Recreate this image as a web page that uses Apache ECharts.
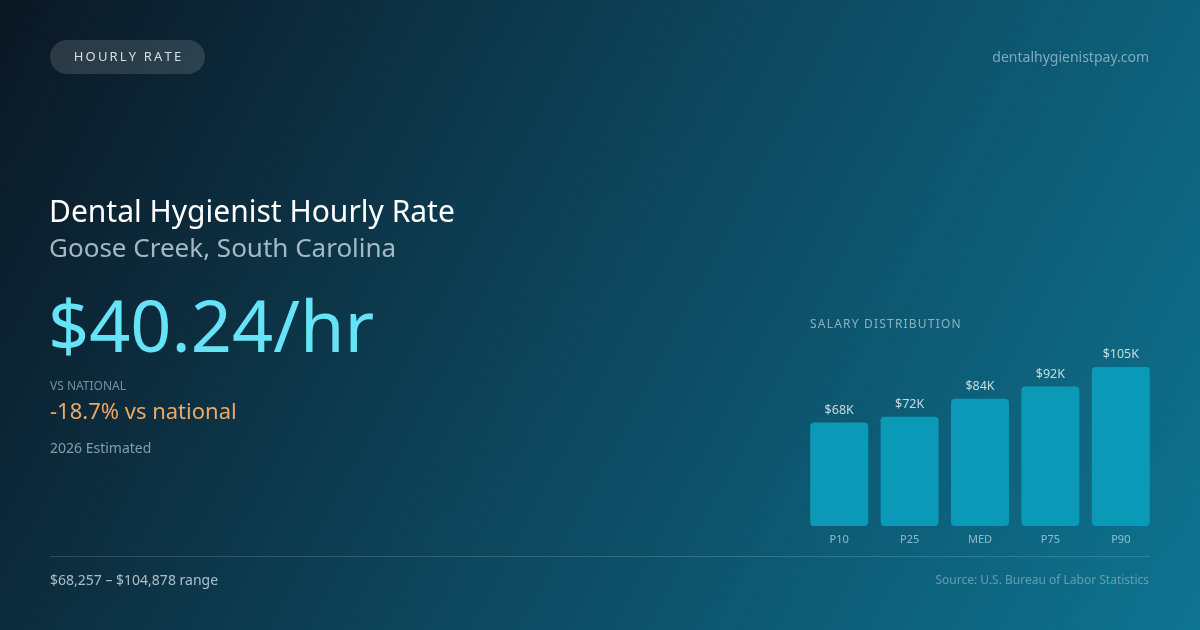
<!DOCTYPE html>
<html>
<head>
<meta charset="utf-8">
<title>Dental Hygienist Hourly Rate - Goose Creek</title>
<script src="https://cdn.jsdelivr.net/npm/echarts@6/dist/echarts.min.js"></script>
<style>
  html, body { margin: 0; padding: 0; background: #0c1a28; }
  #main { width: 1200px; height: 630px; }
</style>
</head>
<body>
<div id="main"></div>
<script>
// salary distribution (annual, USD)
var categories = ['P10', 'P25', 'MED', 'P75', 'P90'];
var salaries = [68257, 72000, 84000, 92000, 104878];
var valueLabels = ['$68K', '$72K', '$84K', '$92K', '$105K'];

var hourlyRate = '$40.24/hr';
var vsNational = '-18.7% vs national';
var rangeText = '$68,257 \u2013 $104,878 range';

var FONT = '"Noto Sans", "Open Sans", sans-serif';

var myChart = echarts.init(document.getElementById('main'), null, { renderer: 'canvas' });

// zrender has no letter-spacing, so pad caps labels with thin spaces
function spaced(s, sp) {
  return s.split('').join(sp);
}

function txt(x, y, text, size, color, align, weight) {
  return {
    type: 'text',
    x: x,
    y: y,
    style: {
      text: text,
      fontSize: size,
      fontFamily: FONT,
      fontWeight: weight || 'normal',
      fill: color,
      align: align || 'left',
      verticalAlign: 'middle'
    }
  };
}

var option = {
  backgroundColor: {
    type: 'linear',
    x: 0, y: 0, x2: 1, y2: 1,
    colorStops: [
      { offset: 0, color: '#0b1723' },
      { offset: 0.45, color: '#0d4258' },
      { offset: 1, color: '#0e7491' }
    ]
  },
  animation: false,
  grid: {
    left: 804,
    right: 44,
    top: 367,
    bottom: 104
  },
  xAxis: {
    type: 'category',
    data: categories,
    axisLine: { show: false },
    axisTick: { show: false },
    axisLabel: {
      margin: 8,
      fontSize: 11,
      fontFamily: FONT,
      color: 'rgba(190, 225, 235, 0.7)'
    }
  },
  yAxis: {
    type: 'value',
    min: 0,
    max: 104878,
    show: false,
    splitLine: { show: false }
  },
  series: [
    {
      type: 'bar',
      data: salaries,
      barWidth: 58,
      itemStyle: {
        color: '#0a9ab7',
        borderRadius: 4
      },
      label: {
        show: true,
        position: 'top',
        distance: 6,
        fontSize: 12.5,
        fontFamily: FONT,
        color: 'rgba(225, 240, 245, 0.85)',
        formatter: function (p) { return valueLabels[p.dataIndex]; }
      }
    }
  ],
  graphic: [
    // pill
    {
      type: 'rect',
      shape: { x: 50, y: 40, width: 155, height: 34, r: 17 },
      style: { fill: 'rgba(255, 255, 255, 0.13)' }
    },
    txt(127.5, 57.5, spaced('HOURLY RATE', '\u2009'), 13, 'rgba(235, 242, 246, 0.88)', 'center'),
    txt(1149, 58, 'dentalhygienistpay.com', 14, 'rgba(175, 205, 220, 0.7)', 'right'),

    txt(49, 213, 'Dental Hygienist Hourly Rate', 30, '#ffffff'),
    txt(49, 250, 'Goose Creek, South Carolina', 26, 'rgba(200, 220, 230, 0.8)'),
    txt(48, 331, hourlyRate, 72, '#67e3f7'),

    txt(50, 387, 'VS NATIONAL', 12, 'rgba(190, 210, 220, 0.6)'),
    txt(50, 413, vsNational, 22, '#eea862'),
    txt(50, 449, '2026 Estimated', 14, 'rgba(180, 205, 215, 0.7)'),

    txt(810, 325, spaced('SALARY DISTRIBUTION', '\u200a'), 12, 'rgba(175, 210, 222, 0.75)'),

    {
      type: 'line',
      shape: { x1: 50, y1: 556.5, x2: 1150, y2: 556.5 },
      style: { stroke: 'rgba(255, 255, 255, 0.15)', lineWidth: 1 }
    },
    txt(50, 581, rangeText, 14, 'rgba(210, 225, 232, 0.8)'),
    txt(1149, 581, 'Source: U.S. Bureau of Labor Statistics', 12, 'rgba(170, 200, 215, 0.55)', 'right')
  ]
};

myChart.setOption(option);
window.addEventListener('resize', myChart.resize);
</script>
</body>
</html>
